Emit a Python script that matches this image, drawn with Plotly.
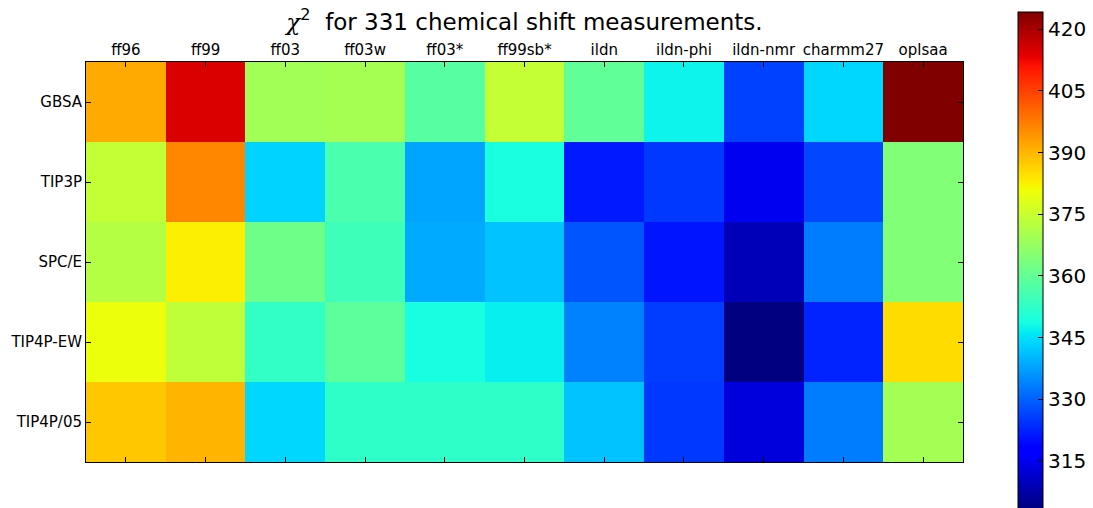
import plotly.graph_objects as go

# Force fields (columns) and water / solvent models (rows)
force_fields = ["ff96", "ff99", "ff03", "ff03w", "ff03*", "ff99sb*",
                "ildn", "ildn-phi", "ildn-nmr", "charmm27", "oplsaa"]
water_models = ["GBSA", "TIP3P", "SPC/E", "TIP4P-EW", "TIP4P/05"]

# chi^2 values, one list per water model
gbsa     = [391.6, 414.8, 369.2, 369.8, 358.1, 374.2, 359.7, 347.4, 326.0, 343.9, 424.2]
tip3p    = [374.0, 396.0, 343.5, 356.5, 338.0, 349.4, 321.4, 325.0, 315.0, 326.8, 364.4]
spce     = [372.0, 382.6, 361.7, 354.5, 338.6, 341.5, 328.5, 320.8, 309.3, 333.2, 364.4]
tip4p_ew = [380.2, 373.5, 352.9, 359.0, 349.0, 346.8, 333.8, 325.6, 303.3, 322.6, 385.2]
tip4p_05 = [387.8, 390.2, 343.9, 352.3, 352.3, 352.3, 341.5, 325.0, 313.0, 333.2, 369.5]

chi2 = [gbsa, tip3p, spce, tip4p_ew, tip4p_05]
colorbar_ticks = [315, 330, 345, 360, 375, 390, 405, 420]

# matplotlib "jet" segment data, turned into a plotly colorscale
_jet = {
    "r": [(0, 0), (0.35, 0), (0.66, 1), (0.89, 1), (1, 0.5)],
    "g": [(0, 0), (0.125, 0), (0.375, 1), (0.64, 1), (0.91, 0), (1, 0)],
    "b": [(0, 0.5), (0.11, 1), (0.34, 1), (0.65, 0), (1, 0)],
}


def _channel(pts, t):
    for (x0, y0), (x1, y1) in zip(pts[:-1], pts[1:]):
        if x0 <= t <= x1:
            return y0 + (y1 - y0) * (t - x0) / (x1 - x0) if x1 > x0 else y1
    return pts[-1][1]


_stops = sorted({x for pts in _jet.values() for x, _ in pts})
jet = [[t, "rgb({:.0f},{:.0f},{:.0f})".format(
    255 * _channel(_jet["r"], t), 255 * _channel(_jet["g"], t), 255 * _channel(_jet["b"], t))]
    for t in _stops]

flat = [v for row in chi2 for v in row]

# plot frame in pixels
L, R, T, B = 86, 963, 62, 462
W, H = 1093, 508

fig = go.Figure(go.Heatmap(
    z=chi2,
    x=force_fields,
    y=water_models,
    colorscale=jet,
    zmin=min(flat),
    zmax=max(flat),
    xgap=0, ygap=0,
    hovertemplate="%{y} / %{x}: %{z}<extra></extra>",
    colorbar=dict(
        thickness=25,
        lenmode="pixels", len=497,
        x=(1018 - L) / (R - L), xanchor="left",
        y=(B - 12) / (B - T), yanchor="top",
        outlinecolor="black", outlinewidth=1,
        ticks="inside", ticklen=5, tickcolor="black",
        tickvals=colorbar_ticks,
        tickfont=dict(family="DejaVu Sans", size=20, color="black"),
        xpad=0, ypad=0,
    ),
))

fig.update_layout(
    width=W, height=H,
    margin=dict(l=L, r=W - R, t=T, b=H - B, autoexpand=False),
    paper_bgcolor="white", plot_bgcolor="white",
    font=dict(family="DejaVu Sans", color="black"),
    title=dict(
        text="<span style='font-family:DejaVu Serif'><i>χ</i></span><sup>2</sup>  for 331 chemical shift measurements.",
        x=(L + R) / 2 / W, xanchor="center",
        y=1 - 22 / H, yanchor="middle",
        font=dict(family="DejaVu Sans", size=23, color="black"),
    ),
    xaxis=dict(
        side="top",
        range=[-0.5, len(force_fields) - 0.5],
        showline=True, linecolor="black", linewidth=1, mirror="ticks",
        ticks="inside", ticklen=5, tickcolor="black",
        tickfont=dict(size=15, color="black"),
        showgrid=False, zeroline=False,
    ),
    yaxis=dict(
        autorange="reversed",
        showline=True, linecolor="black", linewidth=1, mirror="ticks",
        ticks="inside", ticklen=5, tickcolor="black",
        tickfont=dict(size=15, color="black"),
        showgrid=False, zeroline=False,
    ),
)

fig.write_html("out.html")
